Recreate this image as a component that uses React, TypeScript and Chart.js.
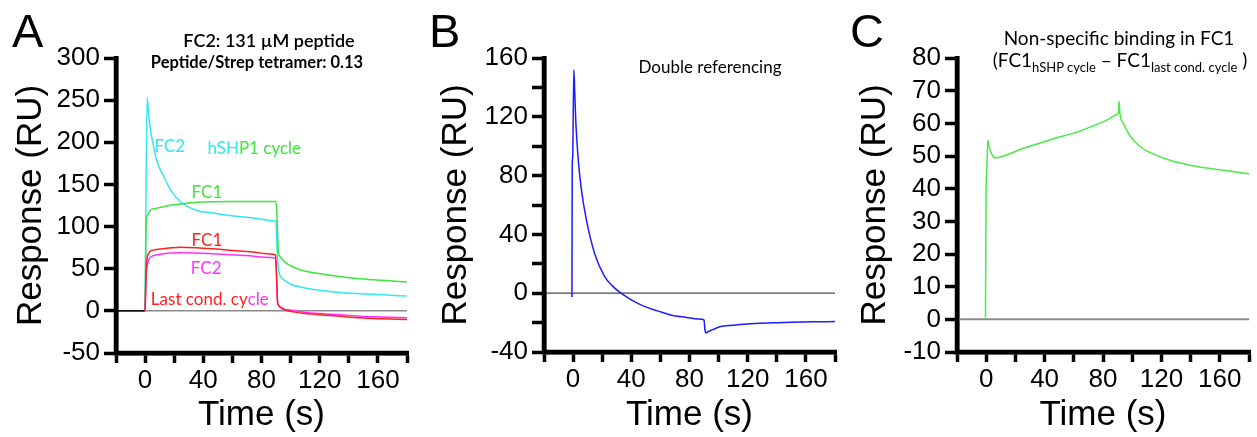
import React, { useEffect, useRef } from "react";
import { Chart, registerables } from "chart.js";

Chart.register(...registerables);

// ---------- Shared axis tick labels ----------
const xTickLabels = [0, 40, 80, 120, 160];
const yTickLabelsA = [-50, 0, 50, 100, 150, 200, 250, 300];
const yTickLabelsB = [-40, 0, 40, 80, 120, 160];
const yTickLabelsC = [-10, 0, 10, 20, 30, 40, 50, 60, 70, 80];

// ---------- Panel A data (time s, response RU) ----------
const tA_FC2_hSHP = [0, 1.4, 2.5, 4, 5.7, 8, 12.6, 18, 24, 35.5, 47, 58, 70, 79, 88, 90, 90.8, 91.5, 92.7, 95, 97.3, 101, 106.5, 115, 124.8, 136, 147.7, 163, 180];
const rA_FC2_hSHP = [0, 253, 232, 212, 196, 178, 160, 142, 130, 119, 116, 113, 111, 109, 106.8, 106.4, 70, 52, 42, 37.5, 34.3, 31, 28.4, 25.5, 23.2, 21.6, 20.4, 19, 17.5];

const tA_FC1_hSHP = [0, 0.8, 1.5, 3.4, 7, 12.6, 18, 24, 35.5, 47, 58, 70, 80, 89.3, 90.4, 91, 91.6, 93, 95, 98, 101.9, 107, 113.3, 124.8, 136, 147.7, 163, 180];
const rA_FC1_hSHP = [0, 108, 113, 119, 121.5, 123.6, 125.5, 126.8, 128.8, 129.4, 129.6, 129.6, 129.6, 129.6, 123, 95, 70, 64, 59.8, 55.5, 52, 48.5, 46, 42.9, 40.3, 38.2, 36.2, 34.3];

const tA_FC1_last = [0, 0.8, 2.3, 4.6, 8, 12.6, 18, 24, 35, 47, 58, 70, 80, 88, 89.6, 90.3, 91, 92, 95, 98, 101.9, 110, 124.8, 136, 147.7, 163, 180];
const rA_FC1_last = [0, 50, 67.7, 71.6, 72.8, 73.6, 74.8, 75.6, 75, 73.6, 72, 70.5, 68.5, 67.2, 66, 45, 12, 6, 2, 0.2, -1.2, -3.2, -5.2, -6.8, -8.3, -9.4, -10.3];

const tA_FC2_last = [0, 0.8, 2.3, 4.6, 8, 12.6, 18, 24, 35, 47, 58, 70, 80, 88, 89.6, 90.3, 91, 92, 95, 98, 101.9, 110, 124.8, 136, 147.7, 163, 180];
const rA_FC2_last = [0, 42, 59.8, 64.5, 66.5, 67.7, 68.5, 68.9, 68.7, 67.7, 66.7, 65.7, 63.8, 63, 62, 42, 10, 5.5, 2.7, 1.2, 0.3, -1.8, -3.6, -5, -6.3, -7.3, -8.3];

const tA_base = [-20, 0];
const rA_base = [0, 0];

// ---------- Panel B data ----------
const tB = [-1.5, -0.8, -0.6, -0.3, 0.5, 1.2, 1.8, 2.6, 3.6, 5.5, 9.1, 14.8, 21.6, 27, 33, 40, 49, 58, 67, 78, 86, 90, 90.6, 91.5, 93, 96, 101.3, 110, 120, 128.6, 140, 150, 165, 180];
const rB = [-2, -2, 88, 92, 152, 135, 118, 104, 90, 72, 50, 27, 11.4, 5, 0, -4.5, -9, -12, -14.8, -16.5, -17.6, -18.2, -25, -27, -26, -24.8, -22.7, -21.8, -21, -20.5, -20.1, -19.8, -19.5, -19.3];

// ---------- Panel C data ----------
const tC = [-0.5, 0, 0.3, 1.1, 2.5, 4.5, 6.3, 9, 15, 25, 37, 48, 60, 72, 82.6, 89.5, 90.5, 91, 91.6, 94, 98, 105, 115, 128, 140, 151, 165, 180];
const rC = [0.5, 42, 45, 54.8, 52, 50, 49.4, 49.6, 50.5, 52.3, 54, 55.5, 57, 59, 61, 62.7, 63.2, 66.8, 63, 60, 56.5, 53, 50.5, 48.4, 47.2, 46.3, 45.5, 44.6];

// zero reference line
const tZero = [-20, 180];
const rZero = [0, 0];

// ---------- styling ----------
const CYAN = "#2fe6f2";
const GREEN = "#3fe43f";
const RED = "#ff2020";
const MAGENTA = "#ff30ff";
const BLUE = "#1c1cff";
const GREEN_C = "#48ec48";

const TICK_FONT = { family: "'Liberation Sans', Arial, sans-serif", size: 26 };
const TITLE_FONT = { family: "'Liberation Sans', Arial, sans-serif", size: 35, lineHeight: 1 };
const NOTE_FAMILY = "Lato, 'Open Sans', sans-serif";
const X_TICK_LEN = 10;
const Y_TICK_LEN = 12;
const AXIS_W = 4.5;
const TICK_W = 3.5;

const pts = (t: number[], v: number[]) => t.map((x, i) => ({ x, y: v[i] }));

// coloured notes placed at data coordinates, plus thick black axis lines
const decorPlugin = {
  id: "decor",
  afterDraw(chart: any) {
    const { ctx, chartArea: ca } = chart;
    const xs = chart.scales.x;
    const ys = chart.scales.y;
    ctx.save();
    ctx.strokeStyle = "#000";
    ctx.lineCap = "butt";
    ctx.lineWidth = AXIS_W;
    ctx.beginPath();
    ctx.moveTo(ca.left, ca.top - TICK_W / 2);
    ctx.lineTo(ca.left, ca.bottom + AXIS_W / 2);
    ctx.moveTo(ca.left - AXIS_W / 2, ca.bottom);
    ctx.lineTo(ca.right + TICK_W / 2, ca.bottom);
    ctx.stroke();
    ctx.restore();

    const labels = chart.config.options.plugins?.decor?.labels || [];
    if (!labels.length) return;
    ctx.save();
    ctx.font = `17px ${NOTE_FAMILY}`;
    ctx.textBaseline = "middle";
    ctx.textAlign = "left";
    labels.forEach((l: any) => {
      const total = l.parts.reduce((w: number, p: any) => w + ctx.measureText(p.text).width, 0);
      let px = xs.getPixelForValue(l.x) - total / 2;
      const py = ys.getPixelForValue(l.y);
      l.parts.forEach((p: any) => {
        ctx.fillStyle = p.color;
        ctx.fillText(p.text, px, py);
        px += ctx.measureText(p.text).width;
      });
    });
    ctx.restore();
  },
};

const annotationsA = [
  { x: 17, y: 195, parts: [{ text: "FC2", color: CYAN }] },
  { x: 75, y: 193, parts: [{ text: "hSH", color: CYAN }, { text: "P1 cycle", color: GREEN }] },
  { x: 42.5, y: 140, parts: [{ text: "FC1", color: GREEN }] },
  { x: 42.5, y: 83, parts: [{ text: "FC1", color: RED }] },
  { x: 42, y: 50, parts: [{ text: "FC2", color: MAGENTA }] },
  { x: 44.5, y: 13, parts: [{ text: "Last cond. cy", color: RED }, { text: "cle", color: MAGENTA }] },
];

function lineDs(data: any[], color: string, width = 1.5, monotone = true) {
  return {
    data,
    borderColor: color,
    backgroundColor: color,
    borderWidth: width,
    pointRadius: 0,
    fill: false,
    cubicInterpolationMode: monotone ? "monotone" : "default",
    tension: 0,
  };
}

function makeOptions(cfg: {
  top: number; right: number; xHeight: number; yWidth: number;
  yMin: number; yMax: number; yStep: number; yLabels: number[];
  yTitlePad: number; labels?: any[];
}) {
  return {
    responsive: false,
    maintainAspectRatio: false,
    animation: false,
    layout: { padding: { left: 0, top: cfg.top, right: cfg.right, bottom: 0 } },
    plugins: {
      legend: { display: false },
      tooltip: { enabled: false },
      title: { display: false },
      decor: { labels: cfg.labels || [] },
    },
    scales: {
      x: {
        type: "linear",
        min: -20,
        max: 180,
        afterFit: (s: any) => { s.height = cfg.xHeight; },
        ticks: {
          stepSize: 20,
          autoSkip: false,
          maxRotation: 0,
          minRotation: 0,
          font: TICK_FONT,
          color: "#000",
          padding: 2,
          callback: (v: any) => (xTickLabels.includes(Number(v)) ? String(v) : ""),
        },
        grid: { display: true, drawOnChartArea: false, drawTicks: true, tickLength: X_TICK_LEN, tickWidth: TICK_W, tickColor: "#000", color: "#000", lineWidth: 3 },
        border: { display: true, color: "#000", width: AXIS_W },
        title: { display: true, text: "Time (s)", font: TITLE_FONT, color: "#000", padding: { top: 0, bottom: 4 } },
      },
      y: {
        type: "linear",
        min: cfg.yMin,
        max: cfg.yMax,
        afterFit: (s: any) => { s.width = cfg.yWidth; },
        ticks: {
          stepSize: cfg.yStep,
          autoSkip: false,
          font: TICK_FONT,
          color: "#000",
          padding: 4,
          callback: (v: any) => (cfg.yLabels.includes(Number(v)) ? String(v) : ""),
        },
        grid: { display: true, drawOnChartArea: false, drawTicks: true, tickLength: Y_TICK_LEN, tickWidth: TICK_W, tickColor: "#000", color: "#000", lineWidth: 3 },
        border: { display: true, color: "#000", width: AXIS_W },
        title: { display: true, text: "Response (RU)", font: TITLE_FONT, color: "#000", padding: { top: cfg.yTitlePad, bottom: 0 } },
      },
    },
  };
}

function ChartCanvas({ left, width, make }: { left: number; width: number; make: () => any }) {
  const ref = useRef<HTMLCanvasElement | null>(null);
  useEffect(() => {
    if (!ref.current) return;
    const chart = new Chart(ref.current, make());
    return () => chart.destroy();
  }, []);
  return (
    <canvas
      ref={ref}
      width={width}
      height={437}
      style={{ position: "absolute", left, top: 0, width, height: 437 }}
    />
  );
}

const makeA = () => ({
  type: "line",
  data: {
    datasets: [
      lineDs(pts(tA_FC1_last, rA_FC1_last), RED),
      lineDs(pts(tA_FC2_last, rA_FC2_last), MAGENTA),
      lineDs(pts(tA_FC1_hSHP, rA_FC1_hSHP), GREEN),
      lineDs(pts(tA_FC2_hSHP, rA_FC2_hSHP), CYAN),
      lineDs(pts(tA_base, rA_base), "#000", 1.5, false),
      lineDs(pts(tZero, rZero), "#8a8a8a", 1.5, false),
    ],
  },
  options: makeOptions({ top: 58, right: 13, xHeight: 84, yWidth: 116, yMin: -50, yMax: 300, yStep: 50, yLabels: yTickLabelsA, yTitlePad: 14, labels: annotationsA }),
  plugins: [decorPlugin],
});

const makeB = () => ({
  type: "line",
  data: {
    datasets: [
      lineDs(pts(tB, rB), BLUE, 1.5),
      lineDs(pts(tZero, rZero), "#4a4a4a", 1.2, false),
    ],
  },
  options: makeOptions({ top: 58, right: 5, xHeight: 85, yWidth: 124, yMin: -40, yMax: 160, yStep: 20, yLabels: yTickLabelsB, yTitlePad: 19 }),
  plugins: [decorPlugin],
});

const makeC = () => ({
  type: "line",
  data: {
    datasets: [
      lineDs(pts(tC, rC), GREEN_C, 1.5),
      lineDs(pts(tZero, rZero), "#8a8a8a", 2, false),
    ],
  },
  options: makeOptions({ top: 58, right: 8, xHeight: 85, yWidth: 117, yMin: -10, yMax: 80, yStep: 10, yLabels: yTickLabelsC, yTitlePad: 18 }),
  plugins: [decorPlugin],
});

const letterStyle: React.CSSProperties = {
  position: "absolute",
  top: 7,
  fontFamily: "'Liberation Sans', Arial, sans-serif",
  fontSize: 47,
  lineHeight: 1,
  color: "#000",
};

function centered(x: number, y: number, extra: React.CSSProperties): React.CSSProperties {
  return {
    position: "absolute",
    left: x,
    top: y,
    transform: "translate(-50%, -50%)",
    whiteSpace: "nowrap",
    fontFamily: NOTE_FAMILY,
    lineHeight: 1,
    color: "#000",
    ...extra,
  };
}

export default function App() {
  return (
    <div style={{ position: "absolute", left: 0, top: 0, width: 1257, height: 437, background: "#fff", overflow: "hidden" }}>
      <ChartCanvas left={0} width={420} make={makeA} />
      <ChartCanvas left={420} width={420} make={makeB} />
      <ChartCanvas left={840} width={417} make={makeC} />

      <div style={{ ...letterStyle, left: 12 }}>A</div>
      <div style={{ ...letterStyle, left: 429 }}>B</div>
      <div style={{ ...letterStyle, left: 850 }}>C</div>

      <div style={centered(269, 40, { fontSize: 18, fontWeight: 600 })}>FC2: 131 µM peptide</div>
      <div style={centered(257, 62, { fontSize: 16.5, fontWeight: 700 })}>Peptide/Strep tetramer: 0.13</div>

      <div style={centered(710, 66, { fontSize: 17 })}>Double referencing</div>

      <div style={centered(1119, 37, { fontSize: 19 })}>Non-specific binding in FC1</div>
      <div style={centered(1120, 62, { fontSize: 19 })}>
        (FC1<sub style={{ fontSize: 13, verticalAlign: "-5px" }}>hSHP cycle</sub> – FC1
        <sub style={{ fontSize: 13, verticalAlign: "-5px" }}>last cond. cycle</sub> )
      </div>
    </div>
  );
}
